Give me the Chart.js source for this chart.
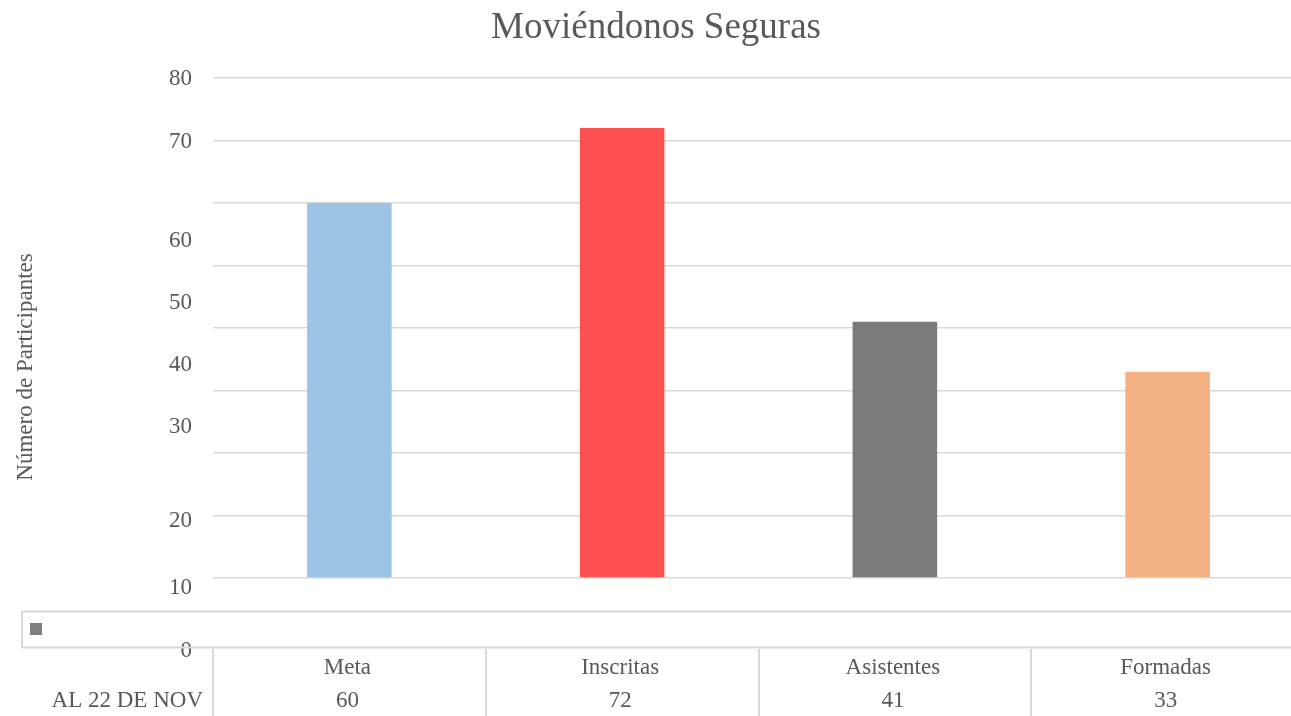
<!DOCTYPE html>
<html lang="es">
<head>
<meta charset="utf-8">
<title>Moviéndonos Seguras</title>
<script src="https://cdn.jsdelivr.net/npm/chart.js@4.4.1/dist/chart.umd.min.js"></script>
<style>
  html, body { margin: 0; padding: 0; background: #fff; overflow: hidden; }
  #wrap { width: 1291px; height: 716px; overflow: hidden; }
  canvas { display: block; }
</style>
</head>
<body>
<div id="wrap"><canvas id="chart" width="1304" height="716"></canvas></div>
<script>
const categories = ["Meta", "Inscritas", "Asistentes", "Formadas"];
const seriesName = "AL 22 DE NOV";
const values = [60, 72, 41, 33];
const barColors = ["#9dc3e6", "#ff5050", "#7b7b7b", "#f4b183"];
const yTickLabels = ["80", "70", "60", "50", "40", "30", "20", "10", "0"];
// where the tick labels sit on the axis (they drift below their gridlines in the original)
const yTickSpots = [80, 70, 54.1, 44.2, 34.2, 24.3, 9.3, -1.4, -11.5];

const chartTitle = "Moviéndonos Seguras";
const yTitle = "Número de Participantes";

const FONT = '"Liberation Serif", "Times New Roman", serif';
const TEXT = "#595959";
const LINE = "#d9d9d9";

// titles, tick labels and the data table under the plot
const decorations = {
  id: "decorations",
  afterDraw(c) {
    const ctx = c.ctx;
    const x = c.scales.x;
    const y = c.scales.y;
    ctx.save();
    ctx.fillStyle = TEXT;

    ctx.font = "37px " + FONT;
    ctx.textAlign = "center";
    ctx.textBaseline = "alphabetic";
    ctx.fillText(chartTitle, 656, 38);

    ctx.save();
    ctx.translate(26, 367);
    ctx.rotate(-Math.PI / 2);
    ctx.font = "23px " + FONT;
    ctx.textAlign = "center";
    ctx.textBaseline = "middle";
    ctx.fillText(yTitle, 0, 0);
    ctx.restore();

    ctx.font = "23px " + FONT;
    ctx.textAlign = "right";
    ctx.textBaseline = "middle";
    yTickLabels.forEach((t, i) => {
      ctx.fillText(t, 192, y.getPixelForValue(yTickSpots[i]) + 1);
    });

    // legend-key strip
    ctx.strokeStyle = LINE;
    ctx.lineWidth = 2;
    ctx.strokeRect(22, 611.5, c.width + 20, 36);
    ctx.fillStyle = "#7f7f7f";
    ctx.fillRect(30, 623, 12, 12);

    // table grid
    const step = x.getPixelForValue(1) - x.getPixelForValue(0);
    ctx.beginPath();
    for (let i = 0; i <= categories.length; i++) {
      const bx = Math.round(x.getPixelForValue(i) - step / 2);
      ctx.moveTo(bx, 649);
      ctx.lineTo(bx, 716);
    }
    ctx.stroke();

    ctx.fillStyle = TEXT;
    ctx.font = "23px " + FONT;
    ctx.textAlign = "center";
    ctx.textBaseline = "alphabetic";
    categories.forEach((cat, i) => {
      const cx = x.getPixelForValue(i) - 2;
      ctx.fillText(cat, cx, 674);
      ctx.fillText(String(values[i]), cx, 707);
    });
    ctx.textAlign = "right";
    ctx.fillText(seriesName, 203, 707);
    ctx.restore();
  }
};

new Chart(document.getElementById("chart"), {
  type: "bar",
  data: {
    labels: categories,
    datasets: [{
      label: seriesName,
      data: values,
      backgroundColor: barColors,
      categoryPercentage: 1,
      barPercentage: 0.31,
      borderWidth: 0
    }]
  },
  options: {
    responsive: false,
    animation: false,
    layout: { padding: { left: 213, right: 0, top: 78, bottom: 138 } },
    plugins: {
      legend: { display: false },
      tooltip: { enabled: false }
    },
    scales: {
      x: { display: false },
      y: {
        min: 0,
        max: 80,
        ticks: { display: false, stepSize: 10 },
        border: { display: false },
        grid: { color: LINE, lineWidth: 1.5, drawTicks: false }
      }
    }
  },
  plugins: [decorations]
});
</script>
</body>
</html>
